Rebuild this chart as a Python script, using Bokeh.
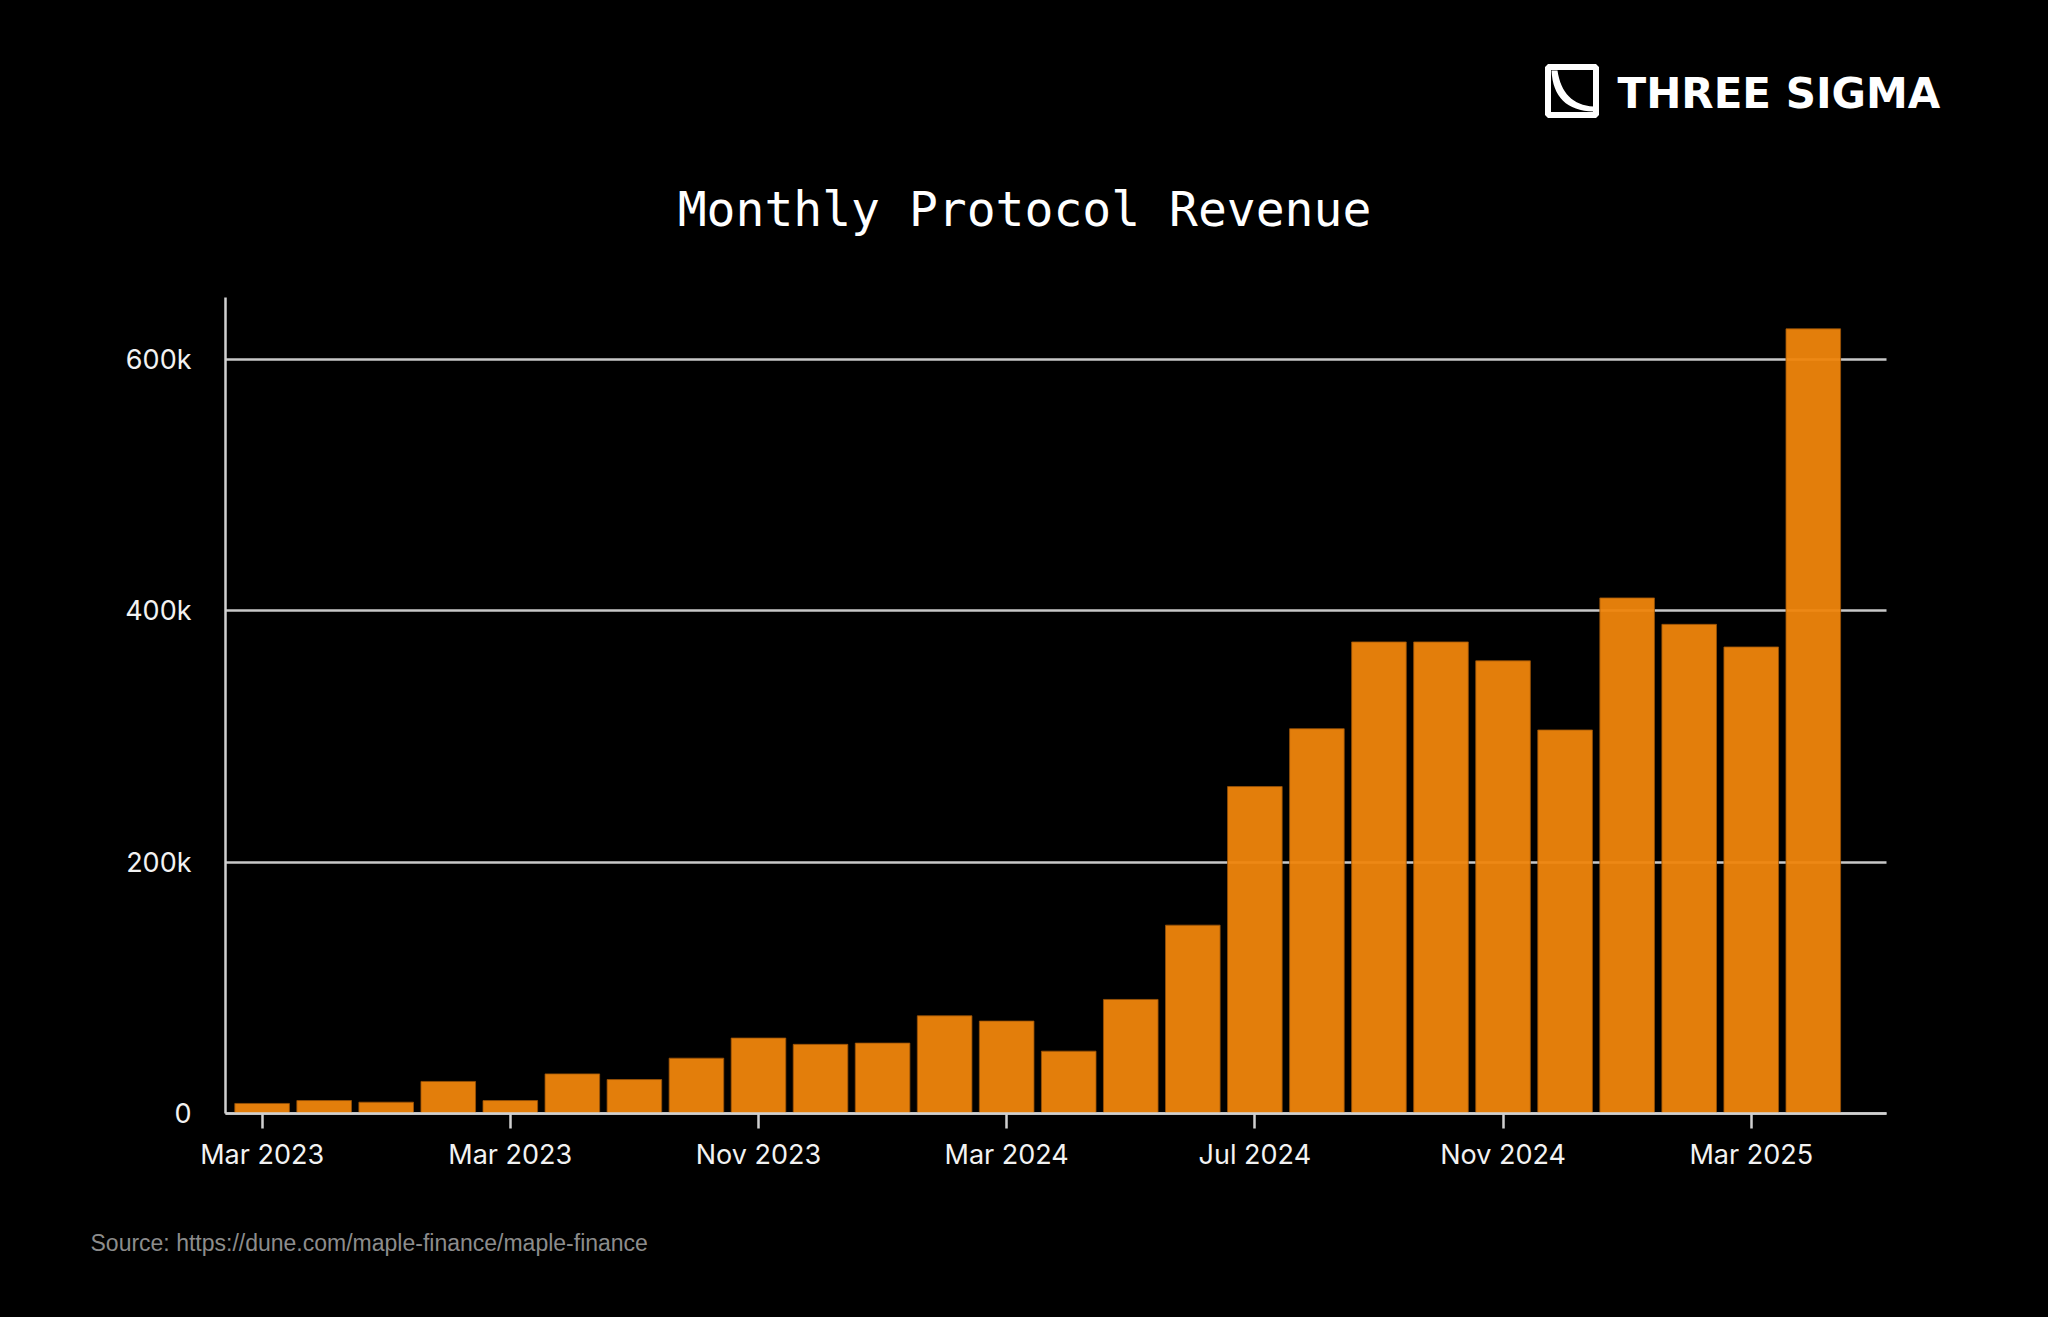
from bokeh.plotting import figure
from bokeh.models import ColumnDataSource, Range1d, FixedTicker, Label
from bokeh.embed import file_html
from bokeh.resources import INLINE

# ---------------- data ----------------
months = ["Mar 2023", "Apr 2023", "May 2023", "Jun 2023", "Jul 2023", "Aug 2023",
          "Sep 2023", "Oct 2023", "Nov 2023", "Dec 2023", "Jan 2024", "Feb 2024",
          "Mar 2024", "Apr 2024", "May 2024", "Jun 2024", "Jul 2024", "Aug 2024",
          "Sep 2024", "Oct 2024", "Nov 2024", "Dec 2024", "Jan 2025", "Feb 2025",
          "Mar 2025", "Apr 2025"]
revenue = [8000, 10300, 9000, 25500, 10300, 31500, 27000, 44000, 60000, 55000,
           56000, 77700, 73500, 49600, 90700, 149800, 260000, 306000, 375000,
           375000, 360000, 305000, 410000, 389000, 371000, 624000]
x_tick_index = [0, 4, 8, 12, 16, 20, 24]
x_tick_labels = ["Mar 2023", "Mar 2023", "Nov 2023", "Mar 2024", "Jul 2024",
                 "Nov 2024", "Mar 2025"]
y_ticks = [0, 200000, 400000, 600000]
y_tick_labels = ["0", "200k", "400k", "600k"]

title_text = "Monthly Protocol Revenue"
source_text = "Source:  https://dune.com/maple-finance/maple-finance"
brand_text = "THREE SIGMA"

# ---------------- layout ----------------
W, H = 2048, 1317
PL, PR, PT, PB = 225, 1886, 297, 1113      # plot-area edges in page pixels
X0, X1 = -0.59, 26.18                      # x data span of plot area
PX_PER_200K = 251.5
BG = "#000000"

# the frame covers the whole page; axes are pinned with fixed_location
px_per_x = (PR - PL) / (X1 - X0)
x_start = X0 - PL / px_per_x
x_end = X0 + (W - PL) / px_per_x
y_top_val = 200000 * (PB - PT) / PX_PER_200K
y_start = -200000 * (H - PB) / PX_PER_200K
y_end = 200000 * PB / PX_PER_200K

src = ColumnDataSource(dict(x=list(range(len(months))), month=months, revenue=revenue))

p = figure(width=W, height=H, output_backend="svg", toolbar_location=None,
           title=None,
           x_range=Range1d(x_start, x_end), y_range=Range1d(y_start, y_end),
           min_border=0, min_border_left=0, min_border_right=0,
           min_border_top=0, min_border_bottom=0,
           background_fill_color=BG, border_fill_color=BG,
           outline_line_color=BG, outline_line_width=4)

p.extra_x_ranges = {"px": Range1d(0, W)}
p.extra_y_ranges = {"py": Range1d(H, 0)}

# grid
p.xgrid.grid_line_color = None
grid = p.ygrid[0]
grid.ticker = FixedTicker(ticks=y_ticks)
if "cross_bounds" in grid.properties():
    grid.cross_bounds = (X0, X1)
    grid.grid_line_color = "#c8c8c8"
    grid.grid_line_width = 2.5
else:
    grid.grid_line_color = None
    p.segment(x0=[X0] * len(y_ticks), x1=[X1] * len(y_ticks), y0=y_ticks, y1=y_ticks,
              line_color="#c8c8c8", line_width=2.5, level="underlay")

p.vbar(x="x", top="revenue", width=0.88, source=src,
       fill_color="#EF850C", fill_alpha=0.95,
       line_color="#9a5208", line_alpha=0.8, line_width=1)

for ax in (p.xaxis[0], p.yaxis[0]):
    ax.axis_line_color = "#d0d0d0"
    ax.axis_line_width = 2.5
    ax.major_tick_line_color = "#d0d0d0"
    ax.major_tick_line_width = 2.5
    ax.minor_tick_line_color = None
    ax.major_label_text_font = "Inter"
    ax.major_label_text_font_size = "27px"
    ax.major_label_text_color = "#f2f2f2"

xa = p.xaxis[0]
xa.fixed_location = 0
xa.bounds = (X0, X1)
xa.ticker = FixedTicker(ticks=x_tick_index)
xa.major_label_overrides = {i: t for i, t in zip(x_tick_index, x_tick_labels)}
xa.major_tick_in = 0
xa.major_tick_out = 15
xa.major_label_standoff = 9

ya = p.yaxis[0]
ya.fixed_location = X0
ya.bounds = (0, y_top_val)
ya.ticker = FixedTicker(ticks=y_ticks)
ya.major_label_overrides = {v: t for v, t in zip(y_ticks, y_tick_labels)}
ya.major_tick_in = 0
ya.major_tick_out = 0
ya.major_label_standoff = 34

DECO = dict(x_range_name="px", y_range_name="py")

# title
p.add_layout(Label(x=1024, y=208, text=title_text, text_align="center",
                   text_baseline="alphabetic", text_font="DejaVu Sans Mono",
                   text_font_size="48px", text_color="#ffffff", **DECO))

# source
p.add_layout(Label(x=90, y=1242.5, text=source_text, text_align="left",
                   text_baseline="alphabetic", text_font="Liberation Sans",
                   text_font_size="23px", text_color="#8c8c8c", **DECO))

# brand logo
p.quad(left=[1547.5], right=[1595.5], top=[66.5], bottom=[114.5],
       fill_alpha=0, line_color="#ffffff", line_width=6, **DECO)


def qbez(p0, p1, p2, n=16):
    pts = []
    for i in range(n + 1):
        t = i / n
        a, b, c = (1 - t) ** 2, 2 * (1 - t) * t, t ** 2
        pts.append((a * p0[0] + b * p1[0] + c * p2[0], a * p0[1] + b * p1[1] + c * p2[1]))
    return pts


logo_curve = qbez((1551, 70), (1553, 110), (1593, 111)) + qbez((1593, 106), (1562, 104), (1557, 70))
p.patch([a for a, b in logo_curve], [b for a, b in logo_curve],
        fill_color="#ffffff", line_color=None, **DECO)

p.add_layout(Label(x=1617, y=93, text=brand_text, text_align="left",
                   text_baseline="alphabetic", text_font="DejaVu Sans",
                   text_font_style="bold", text_font_size="42px",
                   text_color="#ffffff", **DECO))

open("out.html", "w").write(file_html(p, INLINE))
